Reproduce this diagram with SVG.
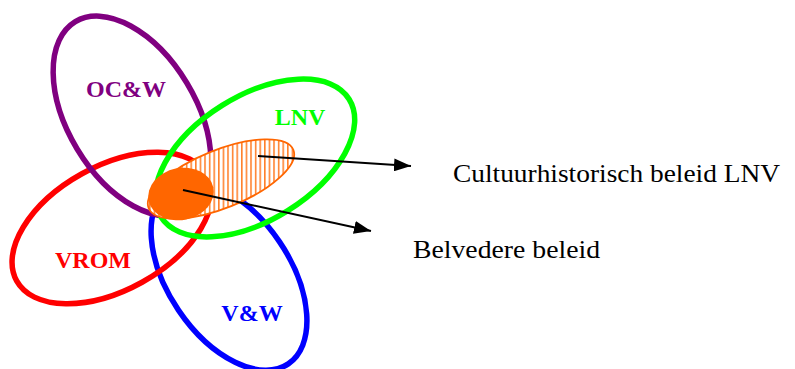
<svg xmlns="http://www.w3.org/2000/svg" width="795" height="369" viewBox="0 0 795 369">
<defs>
<style>
.ring{fill:none;stroke-width:5.5}
.lbl{font-family:"Liberation Serif",serif;font-weight:bold;font-size:24px}
.txt{font-family:"Liberation Serif",serif;font-size:26px;fill:#000}
.conn{stroke:#000;stroke-width:2;fill:none;marker-end:url(#arr)}
</style>
<pattern id="hatch" patternUnits="userSpaceOnUse" width="4.6" height="10" patternTransform="rotate(22 221 179)">
<rect x="2" y="0" width="1.3" height="10" fill="#FF6600"/>
</pattern>
<marker id="arr" markerUnits="userSpaceOnUse" markerWidth="17" markerHeight="13" refX="17" refY="6.5" orient="auto">
<path d="M0,0 L17,6.5 L0,13 Z" fill="#000"/>
</marker>
</defs>
<rect width="795" height="369" fill="#fff"/>
<g id="vw">
<ellipse class="ring" cx="229" cy="276" rx="106" ry="61" transform="rotate(56 229 276)" stroke="#0000FF"/>
<text class="lbl" x="252" y="321" text-anchor="middle" fill="#0000FF">V&amp;W</text>
</g>
<g id="vrom">
<ellipse class="ring" cx="112" cy="228" rx="109" ry="62" transform="rotate(-29 112 228)" stroke="#FF0000"/>
<text class="lbl" x="93" y="268" text-anchor="middle" fill="#FF0000">VROM</text>
</g>
<g id="ocw">
<ellipse class="ring" cx="132" cy="116" rx="110" ry="64" transform="rotate(59 132 116)" stroke="#800080"/>
<text class="lbl" x="126" y="97" text-anchor="middle" fill="#800080">OC&amp;W</text>
</g>
<g id="lnv">
<ellipse class="ring" cx="255" cy="158" rx="111" ry="62" transform="rotate(-32 255 158)" stroke="#00FF00"/>
<text class="lbl" x="300" y="125" text-anchor="middle" fill="#00FF00">LNV</text>
</g>
<g id="cultuurhistorisch">
<ellipse cx="221" cy="179" rx="78" ry="29" transform="rotate(-22 221 179)" fill="#fff"/>
<ellipse cx="221" cy="179" rx="78" ry="29" transform="rotate(-22 221 179)" fill="url(#hatch)" stroke="#FF6600" stroke-width="1.8"/>
</g>
<g id="belvedere">
<ellipse cx="181" cy="194" rx="33" ry="26" transform="rotate(-12 181 194)" fill="#FF6600"/>
</g>
<g id="connectors">
<line class="conn" x1="258" y1="156" x2="411" y2="166"/>
<line class="conn" x1="183" y1="190" x2="371" y2="231"/>
</g>
<g id="labels">
<text class="txt" x="453" y="182" textLength="327" lengthAdjust="spacingAndGlyphs">Cultuurhistorisch beleid LNV</text>
<text class="txt" x="413" y="258" textLength="187" lengthAdjust="spacingAndGlyphs">Belvedere beleid</text>
</g>
</svg>
